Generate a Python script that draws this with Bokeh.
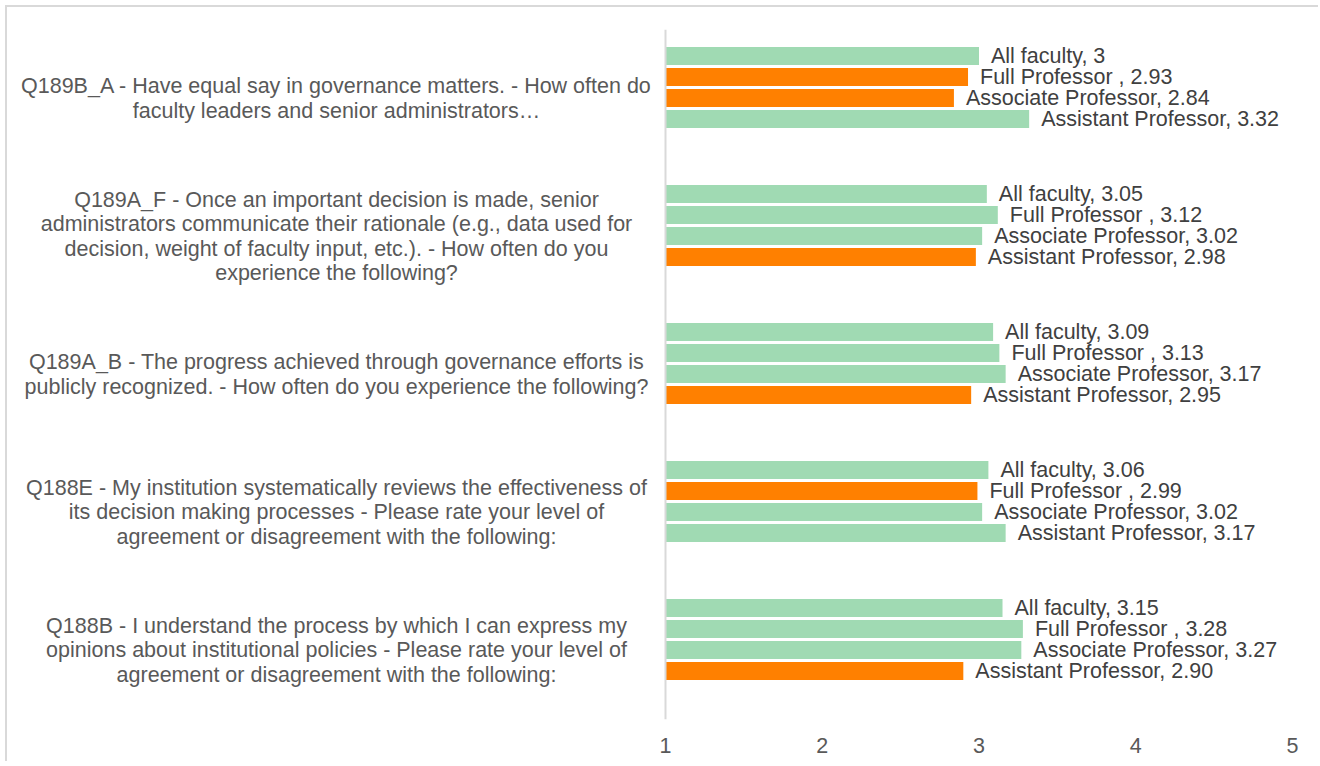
from bokeh.plotting import figure
from bokeh.models import Range1d, FixedTicker, ColumnDataSource, Span
from bokeh.core.properties import value
from bokeh.embed import file_html
from bokeh.resources import INLINE

# ---------------- data ----------------
questions = [
    "Q189B_A - Have equal say in governance matters. - How often do\nfaculty leaders and senior administrators\u2026",
    "Q189A_F - Once an important decision is made, senior\nadministrators communicate their rationale (e.g., data used for\ndecision, weight of faculty input, etc.). - How often do you\nexperience the following?",
    "Q189A_B - The progress achieved through governance efforts is\npublicly recognized. - How often do you experience the following?",
    "Q188E - My institution systematically reviews the effectiveness of\nits decision making processes - Please rate your level of\nagreement or disagreement with the following:",
    "Q188B - I understand the process by which I can express my\nopinions about institutional policies - Please rate your level of\nagreement or disagreement with the following:",
]
series_names = ["All faculty, ", "Full Professor , ", "Associate Professor, ", "Assistant Professor, "]
all_faculty = [3.00, 3.05, 3.09, 3.06, 3.15]
full_prof = [2.93, 3.12, 3.13, 2.99, 3.28]
assoc_prof = [2.84, 3.02, 3.17, 3.02, 3.27]
asst_prof = [3.32, 2.98, 2.95, 3.17, 2.90]
tick_values = [1, 2, 3, 4, 5]

# ---------------- layout constants ----------------
GREEN = "#a0dab3"
ORANGE = "#ff8000"
FONT_SIZE = "21.5px"
PX_PER_X = 156.75
PX_PER_CAT = 138.0
AXIS_SCREEN_X = 665
CANVAS_X0 = 7
FIG_W = 1313
FIG_H = 756
TOP = 22
BOTTOM = 44

x_start = 1 - (AXIS_SCREEN_X - CANVAS_X0) / PX_PER_X
x_end = x_start + FIG_W / PX_PER_X

p = figure(width=FIG_W, height=FIG_H, output_backend="svg", toolbar_location=None,
           x_range=Range1d(x_start, x_end), y_range=Range1d(len(questions) - 0.5, -0.5),
           min_border_left=0, min_border_right=0, min_border_top=TOP, min_border_bottom=BOTTOM,
           y_axis_location=None)
p.styles = {"margin-top": "5px", "margin-left": "5px",
            "border-top": "2px solid #d9d9d9", "border-left": "2px solid #d9d9d9"}
p.outline_line_color = None
p.xgrid.visible = False
p.ygrid.visible = False
p.background_fill_color = "white"
p.border_fill_color = "white"

# bars
series_vals = [all_faculty, full_prof, assoc_prof, asst_prof]
group_off = -11 / PX_PER_CAT
pitch = 21 / PX_PER_CAT
bar_h = 18 / PX_PER_CAT
ys, rights, colors, labels = [], [], [], []
for k in range(len(questions)):
    base = all_faculty[k]
    for i, vals in enumerate(series_vals):
        v = vals[k]
        ys.append(k + group_off + (i - 1.5) * pitch)
        rights.append(v)
        colors.append(ORANGE if v < base - 0.05 else GREEN)
        if i == 0:
            labels.append(series_names[i] + " " + f"{v:g}")
        else:
            labels.append(series_names[i] + f"{v:.2f}")

src = ColumnDataSource(dict(y=ys, right=rights, left=[1] * len(ys), color=colors, label=labels))
p.hbar(y="y", left="left", right="right", height=bar_h, fill_color="color", line_color=None, source=src)
p.text(x="right", y="y", text="label", source=src, x_offset=12, text_align="left", text_baseline="middle",
       text_font=value("Liberation Sans"), text_font_size=FONT_SIZE, text_color="#404040")

# axis line at x=1
p.add_layout(Span(location=1, dimension="height", line_color="#d9d9d9", line_width=2))

# category labels
lab_x = 1 - (AXIS_SCREEN_X - 336) / PX_PER_X
qsrc = ColumnDataSource(dict(x=[lab_x] * len(questions), y=list(range(len(questions))), text=questions))
p.text(x="x", y="y", text="text", source=qsrc, text_align="center", text_baseline="middle",
       text_font=value("Liberation Sans"), text_font_size=FONT_SIZE, text_color="#595959",
       text_line_height=1.02)

# x axis
xa = p.xaxis[0]
xa.ticker = FixedTicker(ticks=tick_values)
xa.axis_line_color = None
xa.major_tick_line_color = None
xa.minor_tick_line_color = None
xa.major_tick_out = 0
xa.major_label_standoff = 18
xa.major_label_text_font = "Liberation Sans"
xa.major_label_text_font_size = FONT_SIZE
xa.major_label_text_color = "#595959"

open("out.html", "w").write(file_html(p, INLINE))
